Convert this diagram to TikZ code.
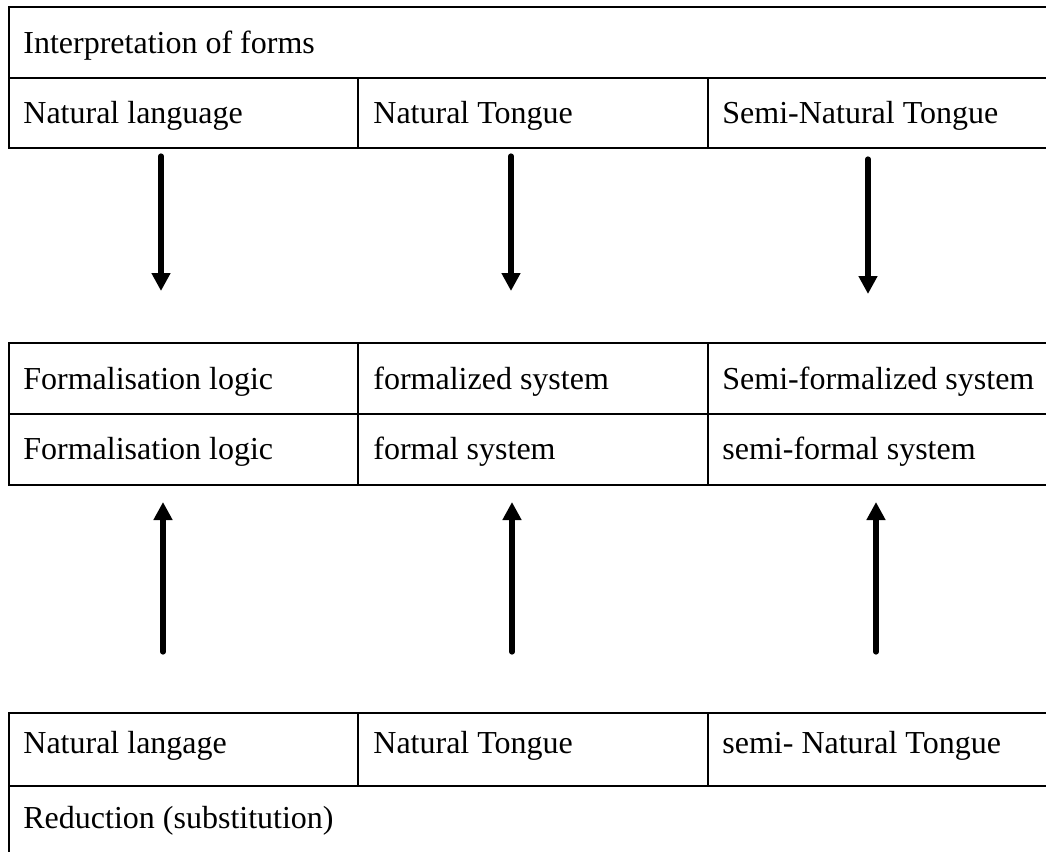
\documentclass[tikz,border=0pt]{standalone}
\usepackage{fontspec}
\setmainfont{Liberation Serif}
\usetikzlibrary{arrows.meta}

\begin{document}
\begin{tikzpicture}[x=0.5pt,y=-0.5pt,cell/.style={anchor=base west,inner sep=0pt,font=\fontsize{16}{19}\selectfont},grid/.style={line width=0.9pt},arr/.style={line width=2.6pt,line cap=round,-{Triangle[length=9pt,width=9pt]}}]
\useasboundingbox (0,0) rectangle (1046,852);
% top table
\draw[grid] (1046,7)--(9,7)--(9,148)--(1046,148) (9,78)--(1046,78) (358,78)--(358,148) (708,78)--(708,148);
\node[cell] (io) at (23,53) {Interpretation of forms};
\node[cell] (nl) at (23,123) {Natural language};
\node[cell] (nt) at (373,123) {Natural Tongue};
\node[cell] (snt) at (722,123) {Semi-Natural Tongue};
% middle table
\draw[grid] (1046,343)--(9,343)--(9,485)--(1046,485) (9,414)--(1046,414) (358,343)--(358,485) (708,343)--(708,485);
\node[cell] (fl) at (23,389) {Formalisation logic};
\node[cell] (fzs) at (373,389) {formalized system};
\node[cell] (sfzs) at (722,389) {Semi-formalized system};
\node[cell] (fl2) at (23,459) {Formalisation logic};
\node[cell] (fs) at (373,459) {formal system};
\node[cell] (sfs) at (722,459) {semi-formal system};
% bottom table
\draw[grid] (1046,713)--(9,713)--(9,852) (9,786)--(1046,786) (358,713)--(358,786) (708,713)--(708,786);
\node[cell] (nlg) at (23,753) {Natural langage};
\node[cell] (nt2) at (373,753) {Natural Tongue};
\node[cell] (snt2) at (722,753) {semi- Natural Tongue};
\node[cell] (red) at (23,828) {Reduction (substitution)};
% arrows
\coordinate (a1) at (161,156); \coordinate (b1) at (161,291);
\coordinate (a2) at (511,156); \coordinate (b2) at (511,291);
\coordinate (a3) at (868,159); \coordinate (b3) at (868,294);
\coordinate (c1) at (163,652); \coordinate (e1) at (163,502);
\coordinate (c2) at (512,652); \coordinate (e2) at (512,502);
\coordinate (c3) at (876,652); \coordinate (e3) at (876,502);
\foreach \i in {1,2,3}{
  \draw[arr] (a\i)--(b\i);
  \draw[arr] (c\i)--(e\i);
}
\end{tikzpicture}
\end{document}
